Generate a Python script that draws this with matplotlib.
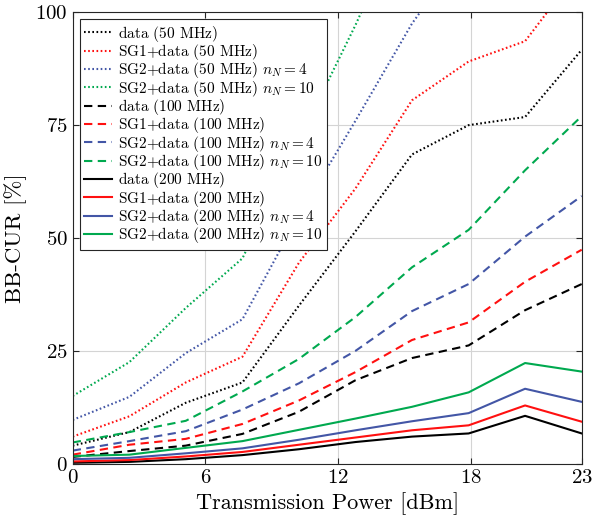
import numpy as np
import matplotlib.pyplot as plt

plt.rcParams["font.family"] = ["cmr10", "DejaVu Serif"]
plt.rcParams["mathtext.fontset"] = "cm"
plt.rcParams["axes.formatter.use_mathtext"] = True

# transmission power [dBm]
power = [0, 2.56, 5.11, 7.67, 10.22, 12.78, 15.33, 17.89, 20.44, 23]

# 50 MHz (dotted)
data_50 = [4.0, 7.0, 13.5, 18.0, 35.0, 51.5, 68.5, 75.0, 76.8, 91.7]
sg1_50 = [6.0, 10.5, 18.0, 23.7, 44.5, 61.0, 80.5, 89.1, 93.6, 110.0]
sg2_50_n4 = [9.7, 14.8, 24.5, 32.0, 55.0, 76.0, 97.5, 115.0, 125.0, 135.0]
sg2_50_n10 = [15.0, 22.5, 34.5, 45.5, 71.6, 97.2, 125.0, 140.0, 150.0, 160.0]

# 100 MHz (dashed)
data_100 = [1.5, 2.8, 4.0, 6.6, 11.5, 18.5, 23.4, 26.2, 34.0, 39.8]
sg1_100 = [2.0, 4.2, 5.5, 8.8, 14.0, 20.3, 27.4, 31.3, 40.3, 47.4]
sg2_100_n4 = [2.9, 5.0, 7.2, 12.0, 17.8, 25.0, 33.8, 39.8, 50.3, 59.3]
sg2_100_n10 = [4.7, 7.0, 9.5, 16.0, 23.2, 32.5, 43.5, 51.8, 65.0, 77.0]

# 200 MHz (solid)
data_200 = [0.2, 0.4, 1.0, 1.9, 3.2, 4.8, 6.0, 6.7, 10.6, 6.7]
sg1_200 = [0.5, 0.8, 1.6, 2.6, 4.2, 5.8, 7.4, 8.5, 12.9, 9.3]
sg2_200_n4 = [1.0, 1.3, 2.3, 3.4, 5.3, 7.4, 9.4, 11.2, 16.6, 13.7]
sg2_200_n10 = [1.7, 2.0, 3.5, 5.0, 7.5, 10.0, 12.6, 15.8, 22.3, 20.4]

# empty subscript so every legend row gets the same height
pad = r"$_{\ }$"
labels = [
    "data (50 MHz)" + pad, "SG1+data (50 MHz)" + pad,
    "SG2+data (50 MHz) $n_N=4$", "SG2+data (50 MHz) $n_N=10$",
    "data (100 MHz)" + pad, "SG1+data (100 MHz)" + pad,
    "SG2+data (100 MHz) $n_N=4$", "SG2+data (100 MHz) $n_N=10$",
    "data (200 MHz)" + pad, "SG1+data (200 MHz)" + pad,
    "SG2+data (200 MHz) $n_N=4$", "SG2+data (200 MHz) $n_N=10$",
]
series = [data_50, sg1_50, sg2_50_n4, sg2_50_n10,
          data_100, sg1_100, sg2_100_n4, sg2_100_n10,
          data_200, sg1_200, sg2_200_n4, sg2_200_n10]

colors = ["black", "#ff1010", "#4356a6", "#00a94f"]
styles = [(0, (0.8, 1.2)), (0, (4, 2.6)), "-"]

fig = plt.figure(figsize=(5.93, 5.23), dpi=100)
ax = fig.add_axes([0.1226, 0.1134, 0.8584, 0.8631])

for i, (y, lab) in enumerate(zip(series, labels)):
    ax.plot(power, y, color=colors[i % 4], linestyle=styles[i // 4],
            linewidth=1.5, label=lab)

ax.set_xlim(0, 23)
ax.set_ylim(0, 100)
ax.set_xticks([0, 6, 12, 18, 23])
ax.set_yticks([0, 25, 50, 75, 100])
ax.grid(True, color="#d4d4d4", linewidth=0.8)
ax.set_axisbelow(True)
ax.tick_params(direction="in", labelsize=15, length=4, color="#262626",
               top=True, right=True)
for s in ax.spines.values():
    s.set_color("#262626")
    s.set_linewidth(0.8)

ax.set_xlabel("Transmission Power [dBm]", fontsize=16, labelpad=4)
ax.set_ylabel("BB-CUR [%]", fontsize=16.5, labelpad=6)

leg = ax.legend(loc="upper left", fontsize=11, frameon=True, fancybox=False,
                edgecolor="#262626", framealpha=1, handlelength=1.85,
                handletextpad=0.35, labelspacing=-0.11, borderpad=0.3,
                borderaxespad=0.45)
leg.get_frame().set_linewidth(0.8)

fig.savefig("out.png", dpi=100)
